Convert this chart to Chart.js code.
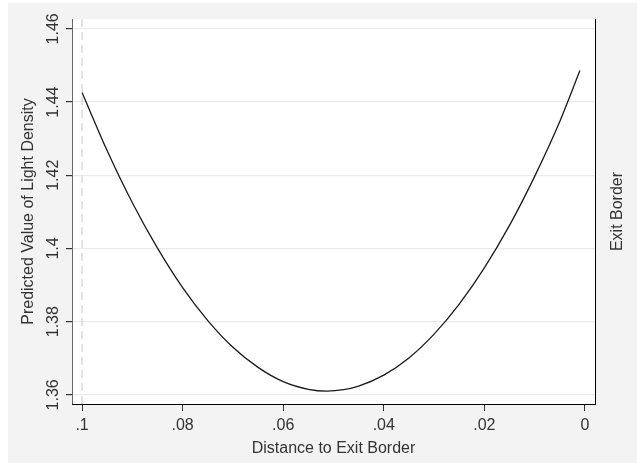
<!DOCTYPE html>
<html>
<head>
<meta charset="utf-8">
<script src="https://cdn.jsdelivr.net/npm/chart.js@4.4.0/dist/chart.umd.min.js"></script>
<style>
html, body { margin: 0; padding: 0; background: #fff; }
</style>
</head>
<body>
<canvas id="myChart" width="637" height="466"></canvas>
<script>
// values (distance runs from .1 down to 0)
const distance = [0.1, 0.095, 0.09, 0.085, 0.08, 0.075, 0.07, 0.065, 0.06, 0.055, 0.0513, 0.048, 0.045, 0.04, 0.035, 0.03, 0.025, 0.02, 0.015, 0.01, 0.005, 0.001];
const lightDensity = [1.4426, 1.4267, 1.4125, 1.4001, 1.3893, 1.3803, 1.373, 1.3675, 1.3636, 1.3615, 1.361, 1.3614, 1.3624, 1.3654, 1.3701, 1.3766, 1.3848, 1.3947, 1.4063, 1.4197, 1.4347, 1.4486];

const xTicks = [0.1, 0.08, 0.06, 0.04, 0.02, 0];
const xTickLabels = ['.1', '.08', '.06', '.04', '.02', '0'];
const yTicks = [1.36, 1.38, 1.4, 1.42, 1.44, 1.46];
const yTickLabels = ['1.36', '1.38', '1.4', '1.42', '1.44', '1.46'];

const xMin = -0.002, xMax = 0.102;
const yMin = 1.3575, yMax = 1.4627;
const refLine = 0.1; // dashed line at the first x value

const textColor = '#333333';
const fontFamily = '"Liberation Sans", Arial, sans-serif';
const fontSize = 16;

// gray page background, white plot region, right-side title
const backdrop = {
    id: 'backdrop',
    beforeDraw(chart) {
        const ctx = chart.ctx;
        const area = chart.chartArea;
        ctx.save();
        ctx.fillStyle = '#ffffff';
        ctx.fillRect(0, 0, chart.width, chart.height);
        ctx.fillStyle = '#f3f3f3';
        ctx.fillRect(8, 3, chart.width - 8, chart.height - 6);
        ctx.fillStyle = '#ffffff';
        ctx.fillRect(area.left, area.top, area.right - area.left, area.bottom - area.top);
        ctx.restore();
    },
    afterDraw(chart) {
        const ctx = chart.ctx;
        const area = chart.chartArea;
        ctx.save();
        ctx.translate(area.right + 23, (area.top + area.bottom) / 2);
        ctx.rotate(-Math.PI / 2);
        ctx.fillStyle = textColor;
        ctx.font = fontSize + 'px ' + fontFamily;
        ctx.textAlign = 'center';
        ctx.textBaseline = 'middle';
        ctx.fillText('Exit Border', 0, 0);
        ctx.restore();
    }
};

const ctx = document.getElementById('myChart').getContext('2d');
const myChart = new Chart(ctx, {
    type: 'scatter',
    data: {
        datasets: [
            {
                label: 'Exit line',
                data: [{ x: refLine, y: yMin }, { x: refLine, y: yMax }],
                showLine: true,
                borderColor: '#dadada',
                borderWidth: 1.5,
                borderDash: [8, 5],
                pointRadius: 0,
                order: 2
            },
            {
                label: 'Predicted Value of Light Density',
                data: distance.map((d, i) => ({ x: d, y: lightDensity[i] })),
                showLine: true,
                borderColor: '#1a1a1a',
                borderWidth: 1.3,
                pointRadius: 0,
                cubicInterpolationMode: 'monotone',
                order: 1
            }
        ]
    },
    options: {
        responsive: false,
        animation: false,
        layout: { padding: { top: 19, left: 0, right: 0, bottom: 0 } },
        plugins: {
            legend: { display: false },
            tooltip: { enabled: false }
        },
        scales: {
            x: {
                type: 'linear',
                reverse: true,
                min: xMin,
                max: xMax,
                afterBuildTicks: scale => { scale.ticks = xTicks.map(v => ({ value: v })); },
                afterFit: scale => { scale.height = 62; },
                grid: { drawOnChartArea: false, tickLength: 7, tickColor: '#333' },
                border: { color: '#000', width: 1 },
                ticks: {
                    autoSkip: false,
                    maxRotation: 0,
                    padding: 5,
                    color: textColor,
                    font: { family: fontFamily, size: fontSize },
                    callback: value => xTickLabels[xTicks.indexOf(value)]
                },
                title: {
                    display: true,
                    text: 'Distance to Exit Border',
                    color: textColor,
                    font: { family: fontFamily, size: fontSize },
                    padding: { top: 0, bottom: 8 }
                }
            },
            y: {
                position: 'left',
                min: yMin,
                max: yMax,
                afterBuildTicks: scale => { scale.ticks = yTicks.map(v => ({ value: v })); },
                afterFit: scale => { scale.width = 72; },
                grid: { color: '#ebebeb', lineWidth: 1.2, tickLength: 6, tickColor: '#333' },
                border: { color: '#666', width: 1 },
                ticks: {
                    autoSkip: false,
                    minRotation: 90,
                    maxRotation: 90,
                    crossAlign: 'center',
                    padding: -3,
                    color: textColor,
                    font: { family: fontFamily, size: fontSize },
                    callback: value => yTickLabels[yTicks.indexOf(value)]
                },
                title: {
                    display: true,
                    text: 'Predicted Value of Light Density',
                    color: textColor,
                    font: { family: fontFamily, size: fontSize },
                    padding: { top: 19, bottom: 0 }
                }
            },
            y2: {
                position: 'right',
                min: 0,
                max: 1,
                afterFit: scale => { scale.width = 42; },
                grid: { drawOnChartArea: false, drawTicks: false },
                border: { color: '#000', width: 1 },
                ticks: { display: false }
            }
        }
    },
    plugins: [backdrop]
});
</script>
</body>
</html>
